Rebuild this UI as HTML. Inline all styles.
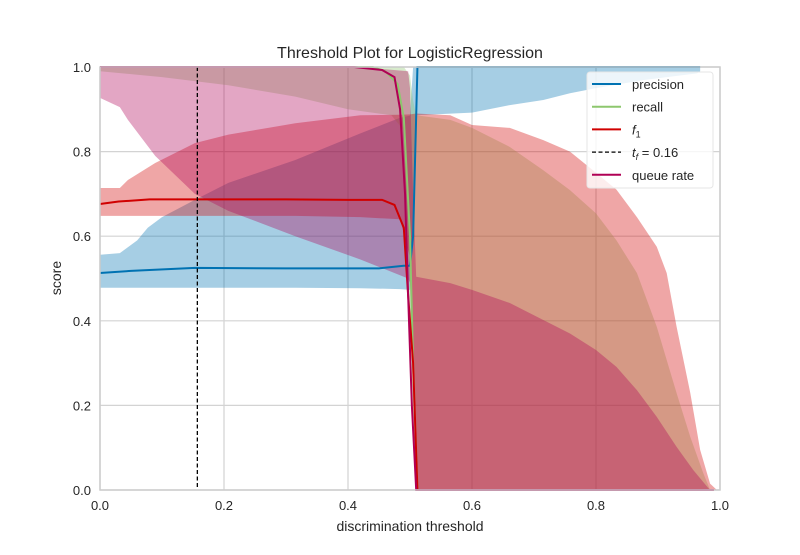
<!DOCTYPE html>
<html><head><meta charset="utf-8"><style>
body{margin:0;background:#fff;}
svg text{font-family:"Liberation Sans","DejaVu Sans",sans-serif;fill:#262626;}
</style></head><body>
<svg id="chart" width="800" height="550" viewBox="0 0 800 550" xmlns="http://www.w3.org/2000/svg">
<rect x="0" y="0" width="800" height="550" fill="#fff"/>
<g id="grid"></g>
<g id="bands"></g>
<g id="lines"></g>
<g id="axes"></g>
<text x="410" y="58" text-anchor="middle" font-size="16">Threshold Plot for LogisticRegression</text>
<text x="410" y="531" text-anchor="middle" font-size="14">discrimination threshold</text>
<text x="0" y="0" transform="translate(61,278) rotate(-90)" text-anchor="middle" font-size="14">score</text>
<g id="legend"></g>
</svg>
<script>
const xTicks=[0,0.2,0.4,0.6,0.8,1.0];
const yTicks=[0,0.2,0.4,0.6,0.8,1.0];
const tickLabels=["0.0","0.2","0.4","0.6","0.8","1.0"];
const thresholdF=0.157;

const precT=[0,0.032,0.06,0.077,0.1,0.153,0.207,0.315,0.42,0.484,0.5,0.505,0.51,0.6,0.661,0.715,0.758,0.8,0.876,0.963,0.968];
const precUpper=[0.556,0.56,0.59,0.62,0.645,0.686,0.726,0.78,0.843,0.88,0.885,1,1,1,1,1,1,1,1,1,1];
const precLower=[0.478,0.478,0.478,0.478,0.478,0.478,0.478,0.478,0.477,0.475,0.473,0.6,0.886,0.892,0.91,0.922,0.938,0.95,0.969,0.985,0.99];
const precMedT=[0,0.05,0.153,0.3,0.45,0.49,0.5,0.505,0.512,0.6,0.8,0.968];
const precMed=[0.513,0.518,0.525,0.524,0.524,0.53,0.53,0.6,1,1,1,1];

const recT=[0,0.1,0.207,0.315,0.4,0.47,0.49,0.5,0.505,0.51,0.565,0.6,0.661,0.715,0.758,0.8,0.833,0.866,0.898,0.93,0.952,0.973,0.984];
const recUpper=[1,1,1,1,1,1,1,0.98,0.92,0.886,0.875,0.856,0.811,0.756,0.709,0.654,0.59,0.513,0.386,0.229,0.126,0.04,0];
const recLower=[0.99,0.976,0.957,0.93,0.9,0.886,0.85,0.3,0.1,0,0,0,0,0,0,0,0,0,0,0,0,0,0];
const recMedT=[0,0.2,0.44,0.46,0.48,0.49,0.5,0.505,0.512,0.6,0.98];
const recMed=[1,1,1,0.99,0.96,0.88,0.6,0.3,0,0,0];

const f1T=[0,0.032,0.045,0.089,0.153,0.207,0.315,0.42,0.484,0.5,0.51,0.565,0.6,0.661,0.715,0.758,0.8,0.833,0.866,0.898,0.914,0.93,0.952,0.968,0.984,0.995];
const f1Upper=[0.714,0.714,0.733,0.773,0.82,0.84,0.867,0.886,0.887,0.888,0.89,0.886,0.863,0.856,0.827,0.8,0.75,0.71,0.645,0.575,0.513,0.386,0.23,0.095,0.015,0];
const f1Lower=[0.648,0.648,0.648,0.648,0.648,0.648,0.648,0.645,0.64,0.55,0,0,0,0,0,0,0,0,0,0,0,0,0,0,0,0];
const f1MedT=[0,0.03,0.08,0.2,0.3,0.4,0.455,0.475,0.49,0.497,0.505,0.512,0.6,0.99];
const f1Med=[0.676,0.682,0.687,0.687,0.687,0.686,0.686,0.674,0.62,0.46,0.3,0,0,0];

const qT=[0,0.032,0.045,0.089,0.153,0.207,0.315,0.42,0.497,0.5,0.505,0.51,0.565,0.6,0.661,0.715,0.758,0.8,0.833,0.866,0.898,0.93,0.957,0.978,0.984];
const qUpper=[1,1,1,1,1,1,1,1,0.99,0.95,0.7,0.504,0.489,0.473,0.442,0.402,0.37,0.331,0.291,0.236,0.173,0.102,0.047,0.01,0];
const qLower=[0.927,0.905,0.875,0.79,0.7,0.66,0.6,0.545,0.5,0.49,0.2,0,0,0,0,0,0,0,0,0,0,0,0,0,0];
const qMedT=[0,0.2,0.41,0.455,0.475,0.484,0.492,0.497,0.503,0.51,0.6,0.99];
const qMed=[1,1,1,0.993,0.976,0.9,0.7,0.46,0.2,0,0,0];

const X0=100,X1=720,Y0=490,Y1=67;
function sx(v){return X0+v*(X1-X0);}
function sy(v){return Y0-v*(Y0-Y1);}
const NS="http://www.w3.org/2000/svg";
function mk(tag,parent){const e=document.createElementNS(NS,tag);parent.appendChild(e);return e;}

const grid=document.getElementById('grid');
xTicks.forEach(function(v){
  const l=mk('line',grid);
  
  
  l.setAttribute('x1',sx(v));l.setAttribute('x2',sx(v));l.setAttribute('y1',Y1);l.setAttribute('y2',Y0);
  l.setAttribute('stroke','#d3d3d3');l.setAttribute('stroke-width','1.2');
});
yTicks.forEach(function(v){
  const l=mk('line',grid);
  
  
  l.setAttribute('x1',X0);l.setAttribute('x2',X1);l.setAttribute('y1',sy(v));l.setAttribute('y2',sy(v));
  l.setAttribute('stroke','#d3d3d3');l.setAttribute('stroke-width','1.2');
});

const bands=document.getElementById('bands');
function band(ts,up,lo,color,name){
  const p=mk('polygon',bands);
  
  
  let pts=[];
  for(let i=0;i<ts.length;i++)pts.push(sx(ts[i])+','+sy(up[i]));
  for(let i=ts.length-1;i>=0;i--)pts.push(sx(ts[i])+','+sy(lo[i]));
  p.setAttribute('points',pts.join(' '));
  p.setAttribute('fill',color);p.setAttribute('fill-opacity','0.35');
}
band(precT,precUpper,precLower,'#0072b2','precision-band');
band(recT,recUpper,recLower,'#8dc76e','recall-band');
band(f1T,f1Upper,f1Lower,'#d00000','f1-band');
band(qT,qUpper,qLower,'#b00055','queue-rate-band');

const lines=document.getElementById('lines');
function line(ts,vs,color,name){
  const p=mk('polyline',lines);
  
  
  p.setAttribute('points',ts.map(function(t,i){return sx(t)+','+sy(vs[i]);}).join(' '));
  p.setAttribute('fill','none');p.setAttribute('stroke',color);p.setAttribute('stroke-width','2');
}
line(precMedT,precMed,'#0072b2','precision-line');
line(recMedT,recMed,'#8dc76e','recall-line');
line(f1MedT,f1Med,'#d00000','f1-line');
line(qMedT,qMed,'#b00055','queue-rate-line');
const th=mk('line',lines);


th.setAttribute('x1',sx(thresholdF));th.setAttribute('x2',sx(thresholdF));th.setAttribute('y1',Y1);th.setAttribute('y2',Y0);
th.setAttribute('stroke','#000');th.setAttribute('stroke-width','1.3');th.setAttribute('stroke-dasharray','4,2.5');

const axes=document.getElementById('axes');
const frame=mk('rect',axes);


frame.setAttribute('x',X0);frame.setAttribute('y',Y1);frame.setAttribute('width',X1-X0);frame.setAttribute('height',Y0-Y1);
frame.setAttribute('fill','none');frame.setAttribute('stroke','#cccccc');frame.setAttribute('stroke-width','1.5');
xTicks.forEach(function(v,i){
  const t=mk('text',axes);
  
  
  t.setAttribute('x',sx(v));t.setAttribute('y',510);t.setAttribute('text-anchor','middle');t.setAttribute('font-size','13');
  t.textContent=tickLabels[i];
});
yTicks.forEach(function(v,i){
  const t=mk('text',axes);
  
  
  t.setAttribute('x',91);t.setAttribute('y',sy(v)+5);t.setAttribute('text-anchor','end');t.setAttribute('font-size','13');
  t.textContent=tickLabels[i];
});

const legend=document.getElementById('legend');
const lb=mk('rect',legend);


lb.setAttribute('x',587);lb.setAttribute('y',72);lb.setAttribute('width',126);lb.setAttribute('height',116);lb.setAttribute('rx',3);
lb.setAttribute('fill','#fff');lb.setAttribute('fill-opacity','0.8');lb.setAttribute('stroke','#e6e6e6');
const legNames=['precision','recall','f1','threshold','queue rate'];
const legColors=['#0072b2','#8dc76e','#d00000','#000','#b00055'];
legNames.forEach(function(n,i){
  const y=84+i*22.7;
  const l=mk('line',legend);
  
  
  l.setAttribute('x1',592);l.setAttribute('x2',621);l.setAttribute('y1',y);l.setAttribute('y2',y);
  l.setAttribute('stroke',legColors[i]);l.setAttribute('stroke-width',i==3?1.3:2);
  if(i==3)l.setAttribute('stroke-dasharray','4,2.5');
  const t=mk('text',legend);
  
  
  t.setAttribute('x',632);t.setAttribute('y',y+5);t.setAttribute('font-size','13');
  if(i==2){t.innerHTML='<tspan font-style="italic">f</tspan><tspan font-size="9" dy="3">1</tspan>';}
  else if(i==3){t.innerHTML='<tspan font-style="italic">t</tspan><tspan font-size="9" font-style="italic" dy="3">f</tspan><tspan dy="-3"> = 0.16</tspan>';}
  else t.textContent=n;
});
</script>
</body></html>
